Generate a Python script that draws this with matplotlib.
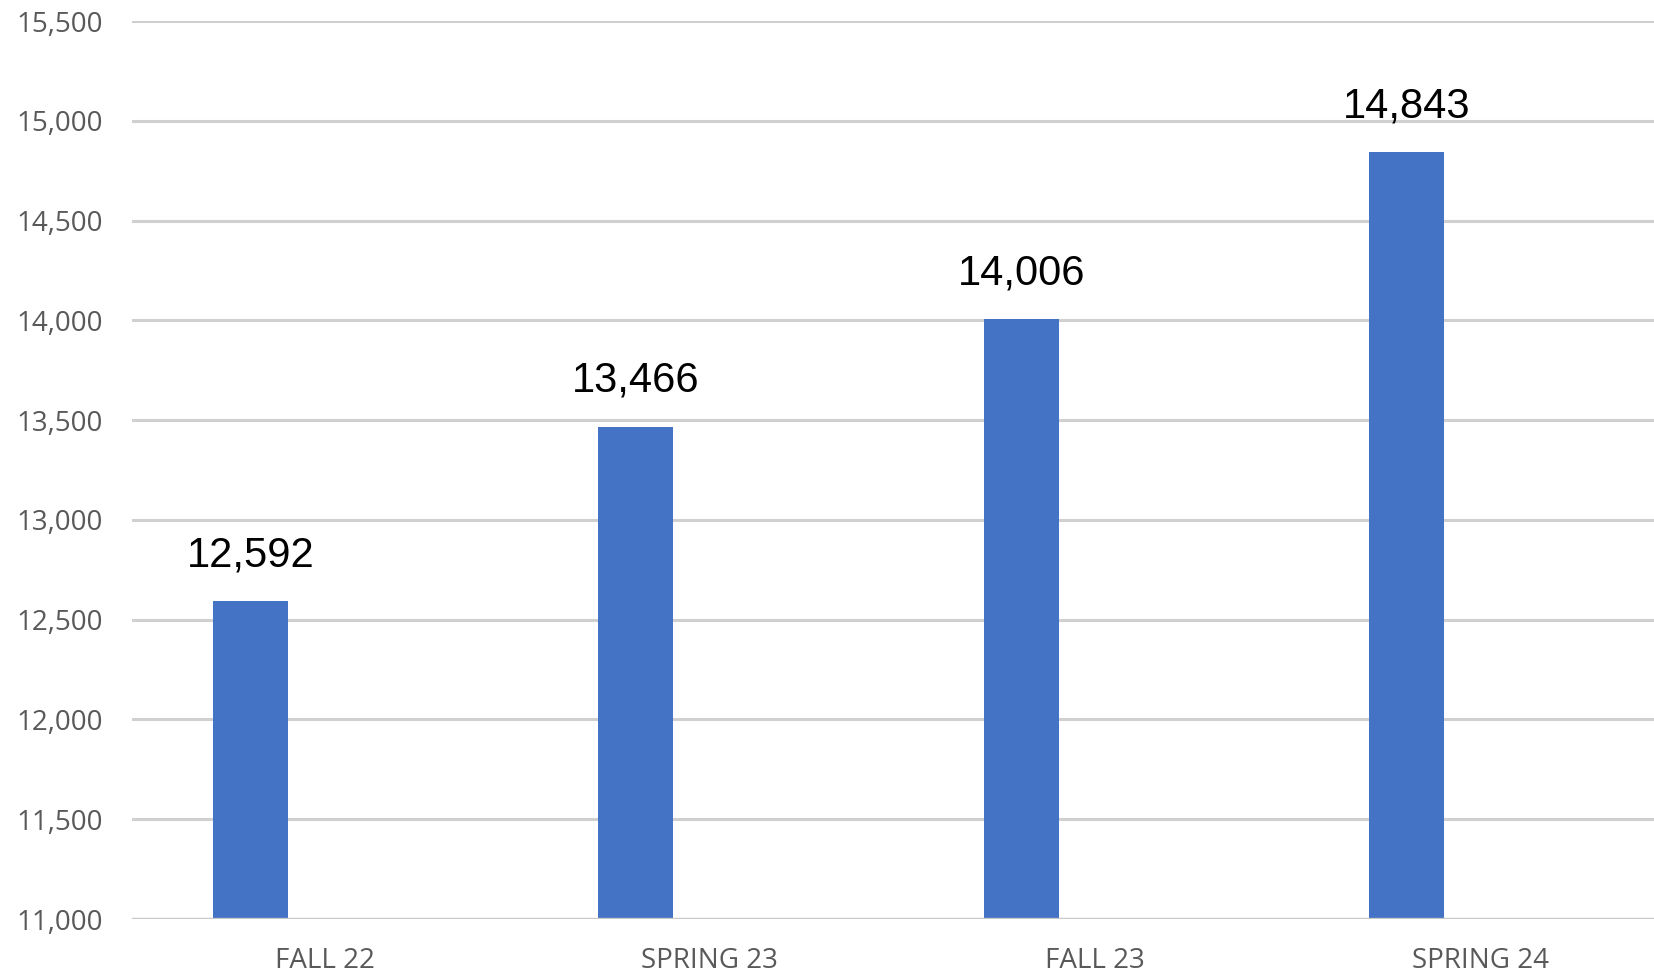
import matplotlib
matplotlib.use("Agg")
import matplotlib.pyplot as plt
from matplotlib.ticker import FuncFormatter

categories = ["FALL 22", "SPRING 23", "FALL 23", "SPRING 24"]
values = [12592, 13466, 14006, 14843]
yticks = [11000, 11500, 12000, 12500, 13000, 13500, 14000, 14500, 15000, 15500]

W, H = 1654, 977
fig = plt.figure(figsize=(W / 100, H / 100), dpi=100)
left = 132 / W
right = 1673 / W
bottom = (H - 919) / H
top = (H - 21) / H
ax = fig.add_axes([left, bottom, right - left, top - bottom])

x = list(range(len(categories)))
offset = -0.192
bw = 0.195
ax.bar([i + offset for i in x], values, width=bw, color="#4472C4", zorder=3)
for i, v in enumerate(values):
    ax.annotate(f"{v:,}", (i + offset, v), xytext=(0, 26), textcoords="offset pixels",
                ha="center", va="bottom", fontsize=30, family="Liberation Sans", color="black")

ax.set_xlim(-0.5, 3.5)
ax.set_ylim(11000, 15500)
ax.set_yticks(yticks)
ax.yaxis.set_major_formatter(FuncFormatter(lambda v, p: f"{int(v):,}"))
ax.set_xticks(x)
ax.set_xticklabels(categories)
ax.grid(axis="y", color="#d0d0d0", linewidth=2.2, zorder=0)
for s in ax.spines.values():
    s.set_visible(False)
ax.axhline(11000, color="#c8c8c8", linewidth=2.4, zorder=4)
ax.tick_params(axis="both", length=0, colors="#595959", labelsize=20)
ax.tick_params(axis="y", pad=21)
ax.tick_params(axis="x", pad=20)
for lab in ax.get_xticklabels() + ax.get_yticklabels():
    lab.set_family("Open Sans")

fig.savefig("out.png", dpi=100)
